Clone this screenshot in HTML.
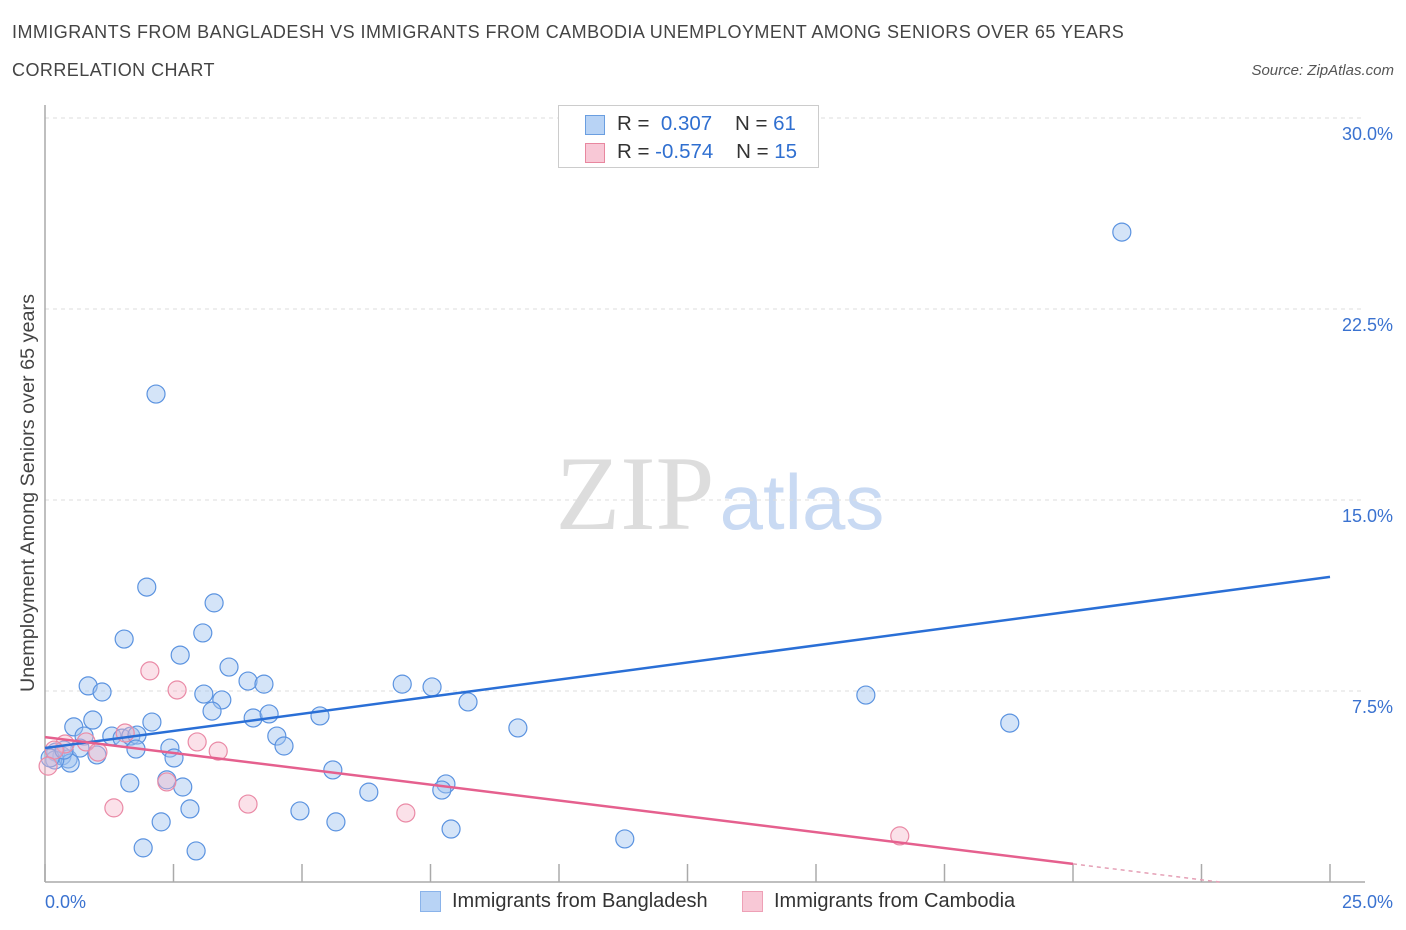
<!DOCTYPE html>
<html><head><meta charset="utf-8">
<style>
body{margin:0;background:#fff;font-family:"Liberation Sans",sans-serif;}
#wrap{position:relative;width:1406px;height:930px;overflow:hidden;}
.t{position:absolute;white-space:nowrap;}
</style></head>
<body>
<div id="wrap">
<div class="t" style="left:12px;top:22px;font-size:18px;letter-spacing:0.45px;color:#444;">IMMIGRANTS FROM BANGLADESH VS IMMIGRANTS FROM CAMBODIA UNEMPLOYMENT AMONG SENIORS OVER 65 YEARS</div>
<div class="t" style="left:12px;top:60px;font-size:18px;letter-spacing:0.45px;color:#444;">CORRELATION CHART</div>
<div class="t" style="right:12px;top:62px;font-size:15px;color:#555;font-style:italic;">Source: ZipAtlas.com</div>
<svg id="svg" width="1406" height="930" style="position:absolute;left:0;top:0">
<text x="635" y="529" font-family="Liberation Serif,serif" font-size="106" fill="#ddd" text-anchor="middle">ZIP</text>
<text x="802" y="529" font-family="Liberation Sans,sans-serif" font-size="78" fill="#c9daf3" text-anchor="middle">atlas</text>
<g id="grid"></g><g id="axes"></g><g id="pts"></g><g id="lines"></g>
<text x="34" y="493" transform="rotate(-90 34 493)" font-size="19.8" fill="#444" text-anchor="middle">Unemployment Among Seniors over 65 years</text>
</svg>
<div style="position:absolute;left:558px;top:105px;width:259px;height:61px;border:1px solid #ccc;background:#fff;">
<div style="position:absolute;left:26px;top:9px;width:20px;height:20px;background:#b8d3f5;border:1px solid #6a9ee0;box-sizing:border-box;"></div>
<div class="t" style="left:58px;top:6px;font-size:20.5px;color:#333;">R = &nbsp;<span style="color:#2f6fd0">0.307</span>&nbsp;&nbsp;&nbsp; N = <span style="color:#2f6fd0">61</span></div>
<div style="position:absolute;left:26px;top:37px;width:20px;height:20px;background:#f8c8d6;border:1px solid #e8879f;box-sizing:border-box;"></div>
<div class="t" style="left:58px;top:34px;font-size:20.5px;color:#333;">R = <span style="color:#2f6fd0">-0.574</span>&nbsp;&nbsp;&nbsp; N = <span style="color:#2f6fd0">15</span></div>
</div>
<div style="position:absolute;left:420px;top:891px;">
<div style="position:absolute;left:0;top:0;width:21px;height:21px;background:#b8d3f5;border:1px solid #8ab3ea;box-sizing:border-box;"></div>
<div class="t" style="left:32px;top:-1px;font-size:20px;color:#333;">Immigrants from Bangladesh</div></div>
<div style="position:absolute;left:742px;top:891px;">
<div style="position:absolute;left:0;top:0;width:21px;height:21px;background:#f8c8d6;border:1px solid #eea0b6;box-sizing:border-box;"></div>
<div class="t" style="left:32px;top:-1px;font-size:20px;color:#333;">Immigrants from Cambodia</div></div>
</div>
<script>
const blueX=[20.95,2.16,1.98,3.29,1.54,3.07,2.63,3.58,0.84,1.11,3.95,4.26,3.09,3.44,3.25,6.95,7.53,8.23,0.93,0.56,2.08,4.05,4.36,5.35,9.20,15.97,18.77,0.76,1.30,1.50,1.67,1.79,4.51,4.65,2.43,2.51,1.77,0.21,0.33,0.45,0.49,0.19,1.01,0.68,5.60,1.65,2.68,2.37,7.80,7.72,6.30,2.82,4.96,2.26,5.66,7.90,11.28,1.91,2.94,0.10,0.37];
const blueY=[25.52,19.16,11.58,10.96,9.54,9.78,8.91,8.44,7.70,7.46,7.89,7.77,7.38,7.15,6.71,7.77,7.66,7.07,6.36,6.09,6.28,6.44,6.60,6.52,6.05,7.34,6.24,5.73,5.73,5.65,5.73,5.77,5.73,5.34,5.26,4.87,5.22,5.10,4.95,4.83,4.67,4.79,4.99,5.26,4.40,3.89,3.73,4.01,3.85,3.61,3.53,2.87,2.79,2.36,2.36,2.08,1.69,1.34,1.22,4.87,5.18];
const pinkX=[2.04,2.57,1.56,0.80,0.39,0.18,0.06,1.03,2.96,3.37,2.37,1.34,3.95,7.02,16.63];
const pinkY=[8.29,7.54,5.85,5.50,5.42,5.18,4.55,5.10,5.50,5.14,3.93,2.91,3.06,2.71,1.81];
const blueTrend=[5.26,11.98];
const pinkTrend=[5.69,0.71];
const yTicks=[7.5,15,22.5,30];
const yTickLabels=["7.5%","15.0%","22.5%","30.0%"];
const xTicks=[0,2.5,5,7.5,10,12.5,15,17.5,20,22.5,25];

const X0=45,X1=1330,Y0=882,Y1=118;
const sx=v=>X0+v/25*(X1-X0), sy=v=>Y0-v/30*(Y0-Y1);
const NS="http://www.w3.org/2000/svg";
function mk(tag,attrs,parent){const e=document.createElementNS(NS,tag);for(const k in attrs)e.setAttribute(k,attrs[k]);document.getElementById(parent).appendChild(e);return e;}
yTicks.forEach((v,i)=>{
 const g=mk('line',{x1:X0,x2:1365,y1:sy(v),y2:sy(v),stroke:'#ddd','stroke-dasharray':'4,4'},'grid');
 
 
 const t=mk('text',{x:1393,y:sy(v)+22,'text-anchor':'end','font-size':18,fill:'#3a72d0'},'grid');
 t.textContent=yTickLabels[i];
 
 
});
const ya=mk('line',{x1:X0,x2:X0,y1:105,y2:Y0,stroke:'#aaa','stroke-width':1.5},'axes');


const xa=mk('line',{x1:X0,x2:1365,y1:Y0,y2:Y0,stroke:'#aaa','stroke-width':1.5},'axes');


xTicks.forEach(v=>{
 const l=mk('line',{x1:sx(v),x2:sx(v),y1:864,y2:Y0,stroke:'#aaa','stroke-width':1.5},'axes');
 
 
});
const xl0=mk('text',{x:45,y:908,'font-size':18,fill:'#3a72d0'},'axes');xl0.textContent='0.0%';


const xl1=mk('text',{x:1393,y:908,'font-size':18,fill:'#3a72d0','text-anchor':'end'},'axes');xl1.textContent='25.0%';


blueX.forEach((x,i)=>{
 const c=mk('circle',{cx:sx(x),cy:sy(blueY[i]),r:9,fill:'rgba(160,195,240,0.45)',stroke:'#5b93e0','stroke-width':1.2},'pts');
 
 
});
pinkX.forEach((x,i)=>{
 const c=mk('circle',{cx:sx(x),cy:sy(pinkY[i]),r:9,fill:'rgba(245,180,200,0.4)',stroke:'#ea8aa6','stroke-width':1.2},'pts');
 
 
});
const bl=mk('line',{x1:sx(0),y1:sy(blueTrend[0]),x2:sx(25),y2:sy(blueTrend[1]),stroke:'#2a6fd6','stroke-width':2.5},'lines');


const slope=(pinkTrend[1]-pinkTrend[0])/20;
const xz=-pinkTrend[0]/slope;
const pl=mk('line',{x1:sx(0),y1:sy(pinkTrend[0]),x2:sx(20),y2:sy(pinkTrend[1]),stroke:'#e5608e','stroke-width':2.5},'lines');


const pd=mk('line',{x1:sx(20),y1:sy(pinkTrend[1]),x2:sx(xz),y2:sy(0),stroke:'#e5a0b6','stroke-width':1.5,'stroke-dasharray':'4,4'},'lines');


</script>
</body></html>
